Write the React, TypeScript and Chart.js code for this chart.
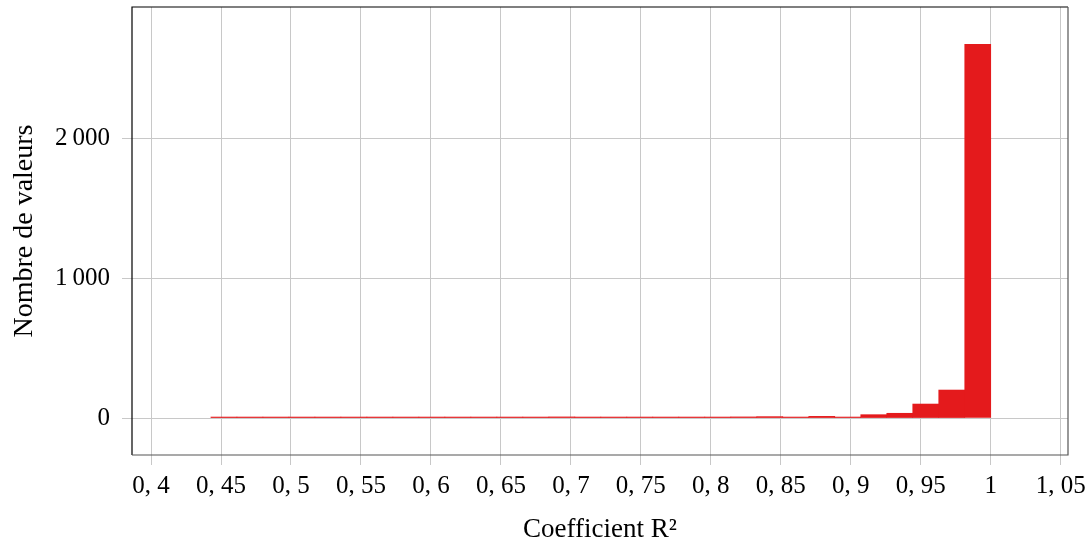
import React, { useEffect, useRef } from "react";
import { Chart, registerables } from "chart.js";

Chart.register(...registerables);

// Histogram bins (bin centres) of the R² coefficient and their counts
const binCenters = [
  0.45209, 0.47066, 0.48923, 0.50781, 0.52638, 0.54495, 0.56353, 0.5821,
  0.60067, 0.61924, 0.63782, 0.65639, 0.67496, 0.69354, 0.71211, 0.73068,
  0.74926, 0.76783, 0.7864, 0.80497, 0.82355, 0.84212, 0.86069, 0.87927,
  0.89784, 0.91641, 0.93499, 0.95356, 0.97213, 0.99071,
];
const counts = [
  5, 2, 1, 2, 5, 4, 2, 5, 4, 2, 5, 2, 1, 8, 2, 2, 4, 5, 4, 2, 8, 10, 3, 12,
  4, 24, 34, 100, 200, 2670,
];

const xTickValues = [
  0.4, 0.45, 0.5, 0.55, 0.6, 0.65, 0.7, 0.75, 0.8, 0.85, 0.9, 0.95, 1, 1.05,
];
const xTickLabels = [
  "0, 4", "0, 45", "0, 5", "0, 55", "0, 6", "0, 65", "0, 7", "0, 75", "0, 8",
  "0, 85", "0, 9", "0, 95", "1", "1, 05",
];
const yTickValues = [0, 1000, 2000];
const yTickLabels = ["0", "1\u2009000", "2\u2009000"];

const xTitle = "Coefficient R\u00B2";
const yTitle = "Nombre de valeurs";

const FONT = "'Liberation Serif', 'DejaVu Serif', serif";

const framePlugin = {
  id: "frame",
  afterDraw(chart: any) {
    const { ctx, chartArea } = chart;
    const { left, right, top, bottom } = chartArea;
    ctx.save();
    ctx.lineWidth = 1.2;
    ctx.strokeStyle = "#000";
    ctx.beginPath();
    ctx.moveTo(left, bottom);
    ctx.lineTo(left, top);
    ctx.lineTo(right, top);
    ctx.stroke();
    ctx.strokeStyle = "#555";
    ctx.beginPath();
    ctx.moveTo(right, top);
    ctx.lineTo(right, bottom);
    ctx.lineTo(left, bottom);
    ctx.stroke();
    ctx.restore();
  },
};

export default function App() {
  const ref = useRef<HTMLCanvasElement | null>(null);

  useEffect(() => {
    if (!ref.current) return;
    const chart = new Chart(ref.current, {
      type: "bar",
      data: {
        datasets: [
          {
            data: binCenters.map((x, i) => ({ x, y: counts[i] })),
            backgroundColor: "#e41a1c",
            borderWidth: 0,
            barPercentage: 1,
            categoryPercentage: 1,
            minBarLength: 1,
          },
        ],
      },
      options: {
        animation: false,
        responsive: true,
        maintainAspectRatio: false,
        layout: { padding: { top: 7, right: 24, left: 0, bottom: 0 } },
        plugins: {
          legend: { display: false },
          tooltip: { enabled: false },
        },
        scales: {
          x: {
            type: "linear",
            min: 0.3864,
            max: 1.0552,
            offset: false,
            grid: {
              offset: false,
              color: "#c8c8c8",
              lineWidth: 1,
              tickLength: 10,
              drawTicks: true,
            },
            border: { display: false },
            afterBuildTicks: (s: any) => {
              s.ticks = xTickValues.map((v) => ({ value: v }));
            },
            afterFit: (s: any) => {
              s.height = 91;
              s.paddingLeft = 0;
              s.paddingRight = 0;
            },
            ticks: {
              autoSkip: false,
              maxRotation: 0,
              color: "#000",
              padding: 6,
              font: { family: FONT, size: 25 },
              callback: (_v: any, i: number) => xTickLabels[i],
            },
            title: {
              display: true,
              text: xTitle,
              color: "#000",
              font: { family: FONT, size: 27 },
              padding: { top: 0, bottom: 0 },
            },
          },
          y: {
            type: "linear",
            min: -264,
            max: 2936,
            grid: {
              color: "#c8c8c8",
              lineWidth: 1,
              tickLength: 10,
            },
            border: { display: false },
            afterBuildTicks: (s: any) => {
              s.ticks = yTickValues.map((v) => ({ value: v }));
            },
            afterFit: (s: any) => {
              s.width = 132;
              s.paddingTop = 0;
              s.paddingBottom = 0;
            },
            ticks: {
              color: "#000",
              padding: 12,
              font: { family: FONT, size: 25 },
              callback: (_v: any, i: number) => yTickLabels[i],
            },
            title: {
              display: true,
              text: yTitle,
              color: "#000",
              font: { family: FONT, size: 28 },
              padding: { top: 8, bottom: 0 },
            },
          },
        },
      },
      plugins: [framePlugin],
    });
    return () => chart.destroy();
  }, []);

  return (
    <div
      style={{
        position: "fixed",
        left: 0,
        top: 0,
        width: 1092,
        height: 546,
        background: "#fff",
      }}
    >
      <canvas ref={ref} />
    </div>
  );
}
